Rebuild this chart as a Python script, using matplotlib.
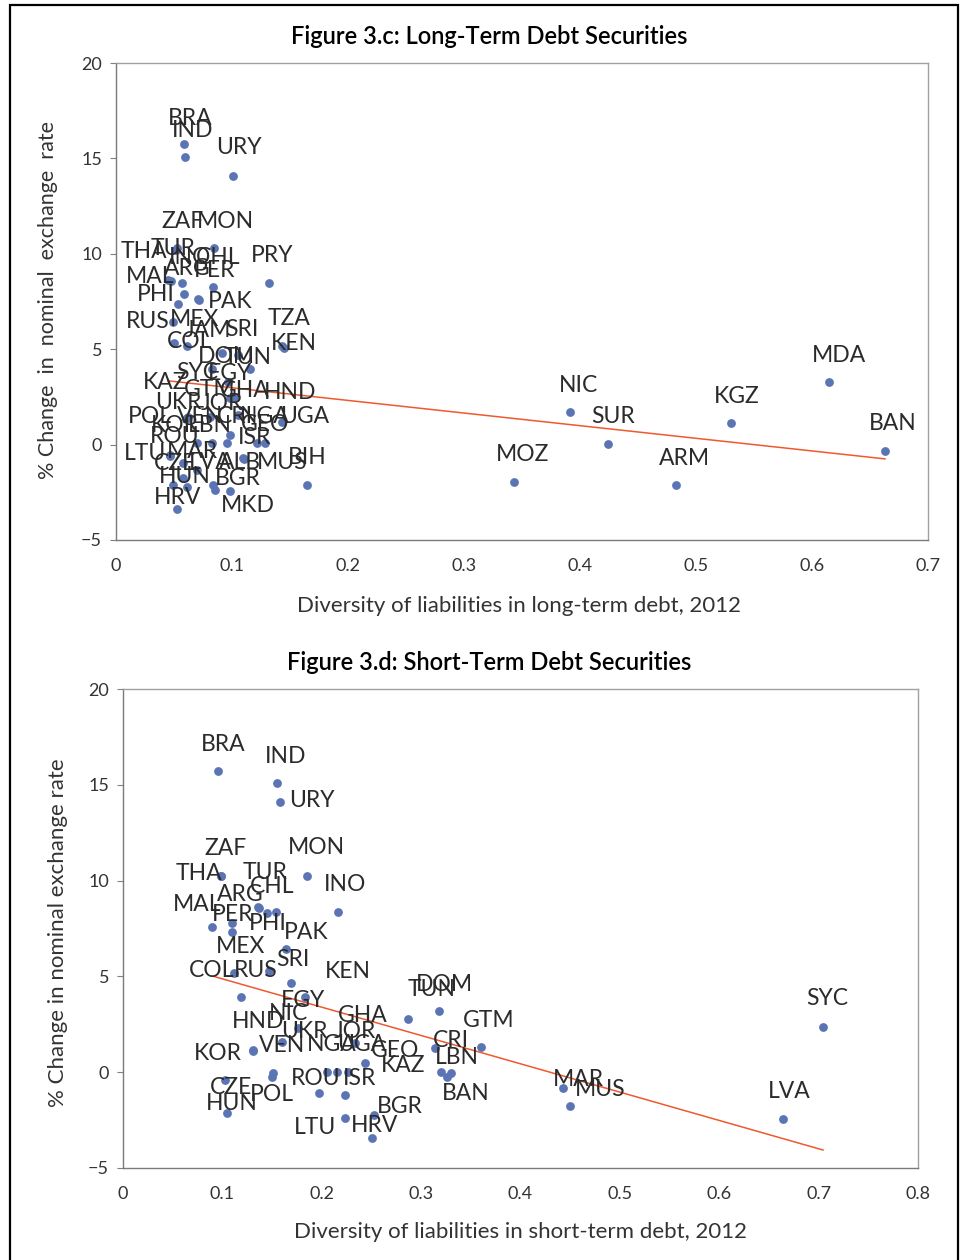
import matplotlib
matplotlib.use('Agg')
import matplotlib.pyplot as plt
import numpy as np
from matplotlib.patches import Rectangle

plt.rcParams['font.family'] = ['Lato', 'DejaVu Sans']

# ---------------- Figure 3.c : Long-term debt ----------------
lt_countries = ['BRA', 'IND', 'URY', 'ZAF', 'THA', 'MON', 'TUR', 'MAL', 'INO', 'CHL',
                'PRY', 'ARG', 'PER', 'PAK', 'PHI', 'RUS', 'COL', 'MEX', 'TZA', 'KEN',
                'JAM', 'SRI', 'SYC', 'TUN', 'DOM', 'EGY', 'JOR', 'GTM', 'GHA', 'HND',
                'UKR', 'POL', 'KAZ', 'VEN', 'LBN', 'CRI', 'NGA', 'UGA', 'ISR', 'KOR',
                'LTU', 'GEO', 'MUS', 'ROU', 'MAR', 'LVA', 'CZE', 'HUN', 'BIH', 'BGR',
                'MKD', 'ALB', 'HRV', 'NIC', 'SUR', 'KGZ', 'MDA', 'BAN', 'MOZ', 'ARM']
lt_x = [0.0586, 0.0595, 0.1009, 0.0526, 0.0517, 0.0845, 0.0448, 0.0474, 0.0569, 0.0836,
        0.1319, 0.0586, 0.0707, 0.0716, 0.0534, 0.0491, 0.0500, 0.0612, 0.1431, 0.1448,
        0.0914, 0.1052, 0.0828, 0.1155, 0.0966, 0.0983, 0.1026, 0.0810, 0.1052, 0.1431,
        0.0612, 0.0603, 0.0621, 0.0698, 0.0828, 0.0957, 0.1216, 0.1284, 0.0983, 0.0466,
        0.0466, 0.1095, 0.1103, 0.0578, 0.0578, 0.0698, 0.0491, 0.0612, 0.1647, 0.0836,
        0.0853, 0.0983, 0.0526, 0.3914, 0.4241, 0.5302, 0.6147, 0.6629, 0.3431, 0.4828]
lt_y = [15.75, 15.07, 14.08, 10.30, 10.20, 10.30, 8.63, 8.57, 8.47, 8.26,
        8.47, 7.89, 7.63, 7.58, 7.37, 6.43, 5.32, 5.17, 5.17, 5.06,
        4.80, 4.70, 3.96, 3.96, 3.28, 2.44, 2.44, 1.45, 1.55, 1.18,
        1.39, 1.34, 1.45, 0.08, 0.08, 0.08, 0.08, 0.08, 0.50, -0.55,
        -0.60, -0.70, -0.76, -0.96, -1.75, -1.33, -2.12, -2.22, -2.12, -2.12,
        -2.38, -2.43, -3.38, 1.71, 0.03, 1.13, 3.28, -0.34, -1.96, -2.12]
lt_trend = [-6.62, 3.64]   # slope, intercept of linear trend
lt_xticks = [0, 0.1, 0.2, 0.3, 0.4, 0.5, 0.6, 0.7]
lt_xticklabels = ['0', '0.1', '0.2', '0.3', '0.4', '0.5', '0.6', '0.7']

# label offsets (pixels, label centre minus point)
lt_ldx = [6, 8, 6, 6, -32, 11, 5, -21, 8, 5,
          3, 3, 17, 31, -22, -25, 16, 8, 7, 10,
          -14, 4, -15, -2, -2, 0, -13, 0, 7, 8,
          -9, -36, -23, 3, -2, 8, 8, 40, 25, 5,
          -25, 22, 38, -8, 9, 13, 2, -2, 0, 25,
          33, 10, 1, 8, 5, 6, 10, 8, 9, 8]
lt_ldy = [-26, -27, -28, -27, 2, -27, -31, -5, -25, -29,
          -27, -26, -29, 2, -9, 0, -2, -26, -27, -5,
          -23, -25, 3, -12, -26, -25, 5, -27, -25, -30,
          -16, -3, -34, -27, -18, -27, -27, -27, 2, -30,
          -3, -33, 3, -26, -26, -7, -22, -10, -28, -7,
          15, -28, -12, -26, -28, -27, -27, -28, -27, -27]

# ---------------- Figure 3.d : Short-term debt ----------------
st_countries = ['BRA', 'IND', 'URY', 'THA', 'ZAF', 'MON', 'TUR', 'ARG', 'CHL', 'PHI',
                'INO', 'MAL', 'PER', 'MEX', 'PAK', 'COL', 'RUS', 'SRI', 'KEN', 'EGY',
                'NIC', 'UKR', 'HND', 'KOR', 'VEN', 'NGA', 'UGA', 'GHA', 'JOR', 'GEO',
                'ROU', 'ISR', 'CZE', 'POL', 'HUN', 'LTU', 'HRV', 'BGR', 'KAZ', 'LBN',
                'CRI', 'GTM', 'TUN', 'DOM', 'BAN', 'MAR', 'MUS', 'LVA', 'SYC']
st_x = [0.0953, 0.1553, 0.1580, 0.0983, 0.0986, 0.1849, 0.1362, 0.1369, 0.1446, 0.1540,
        0.2167, 0.0899, 0.1094, 0.1094, 0.1640, 0.1117, 0.1190, 0.1466, 0.1688, 0.1831,
        0.1764, 0.1597, 0.1311, 0.1308, 0.1512, 0.2050, 0.2150, 0.2335, 0.2267, 0.2435,
        0.1975, 0.2234, 0.1026, 0.1499, 0.1044, 0.2234, 0.2503, 0.2526, 0.3197, 0.3298,
        0.3140, 0.3602, 0.2871, 0.3183, 0.3260, 0.4428, 0.4498, 0.6642, 0.7044]
st_y = [15.72, 15.08, 14.12, 10.26, 10.24, 10.26, 8.61, 8.57, 8.29, 8.35,
        8.35, 7.59, 7.80, 7.33, 6.43, 5.16, 3.91, 5.28, 4.66, 3.91,
        2.29, 1.59, 1.16, 1.13, -0.06, 0.03, 0.03, 1.51, 0.03, 0.46,
        -1.10, -1.19, -0.41, -0.25, -2.15, -2.41, -3.45, -2.23, 0.03, -0.03,
        1.25, 1.30, 2.78, 3.19, -0.25, -0.82, -1.76, -2.44, 2.36]
st_trend = [-14.78, 6.35]  # slope, intercept of linear trend
st_xticks = [0, 0.1, 0.2, 0.3, 0.4, 0.5, 0.6, 0.7, 0.8]
st_xticklabels = ['0', '0.1', '0.2', '0.3', '0.4', '0.5', '0.6', '0.7', '0.8']

st_ldx = [5, 8, 32, -22, 5, 10, 7, -19, 5, -8,
          7, -15, 1, 9, 20, -22, 14, 24, 57, -2,
          -10, 23, 5, -35, 9, 5, 25, 8, 7, 30,
          -4, 15, 6, 0, 5, -30, 3, 26, -38, 6,
          16, 8, 23, 5, 19, 15, 30, 6, 4]
st_ldy = [-27, -27, -1, -2, -28, -28, -35, -13, -27, 11,
          -28, -22, -8, 15, -17, -3, -27, -12, -11, 3,
          -15, -10, -28, 3, -28, -27, -27, -28, -40, -13,
          -15, -17, 7, 18, -10, 9, -13, -8, -6, -15,
          -8, -27, -29, -27, 17, -8, -16, -27, -28]

yticks = [-5, 0, 5, 10, 15, 20]
yticklabels = ['\u22125', '0', '5', '10', '15', '20']

TXT = '#231F20'
DOT = '#5B74B3'
TREND = '#EE5A2E'

W, H = 962, 1260
fig = plt.figure(figsize=(W / 100, H / 100), dpi=100)

# outer frame
fig.patches.append(Rectangle((10 / W, -0.02), 948 / W, 1 - 5 / H + 0.02,
                             transform=fig.transFigure, fill=False,
                             edgecolor='black', linewidth=1.6))


def panel(rect, xs, ys, names, ldx, ldy, trend, xticks, xtlabels, xmax):
    ax = fig.add_axes(rect)
    ax.scatter(xs, ys, s=40, color=DOT, zorder=3, linewidths=0)
    xa = np.array(xs)
    tx = np.array([xa.min(), xa.max()])
    ax.plot(tx, trend[0] * tx + trend[1], color=TREND, lw=1.1, zorder=2)
    for n, x, y, dx, dy in zip(names, xs, ys, ldx, ldy):
        ax.annotate(n, (x, y), xytext=(dx * 0.72, -dy * 0.72),
                    textcoords='offset points', ha='center', va='center',
                    fontsize=16.5, color='#2b2b2b', zorder=4)
    ax.set_xlim(0, xmax)
    ax.set_ylim(-5, 20)
    ax.set_xticks(xticks)
    ax.set_xticklabels(xtlabels)
    ax.set_yticks(yticks)
    ax.set_yticklabels(yticklabels)
    ax.tick_params(axis='x', length=0, pad=13, labelsize=13, colors='#333333')
    ax.tick_params(axis='y', length=4, width=0.8, direction='out', pad=6,
                   labelsize=13, labelcolor='#333333', color='#808080')
    for side in ['left', 'bottom']:
        ax.spines[side].set_color('#7a7a7a')
        ax.spines[side].set_linewidth(1.0)
    for side in ['top', 'right']:
        ax.spines[side].set_color('#a0a0a0')
        ax.spines[side].set_linewidth(1.0)
    return ax


panel([116 / W, 1 - 540 / H, (928 - 116) / W, (540 - 63) / H],
      lt_x, lt_y, lt_countries, lt_ldx, lt_ldy, lt_trend,
      lt_xticks, lt_xticklabels, 0.7)
panel([123 / W, 1 - 1168 / H, (918 - 123) / W, (1168 - 689) / H],
      st_x, st_y, st_countries, st_ldx, st_ldy, st_trend,
      st_xticks, st_xticklabels, 0.8)

fig.text(489 / W, 1 - 37 / H, 'Figure 3.c: Long-Term Debt Securities',
         ha='center', va='center', fontsize=17, color='black', fontweight='semibold')
fig.text(489 / W, 1 - 663 / H, 'Figure 3.d: Short-Term Debt Securities',
         ha='center', va='center', fontsize=17, color='black', fontweight='semibold')
fig.text(519 / W, 1 - 606 / H, 'Diversity of liabilities in long-term debt, 2012',
         ha='center', va='center', fontsize=16, color='#333333')
fig.text(520 / W, 1 - 1232 / H, 'Diversity of liabilities in short-term debt, 2012',
         ha='center', va='center', fontsize=16, color='#333333')
fig.text(48 / W, 1 - 300 / H, '% Change  in  nominal  exchange  rate',
         ha='center', va='center', rotation=90, fontsize=15.5, color='#333333')
fig.text(58 / W, 1 - 933 / H, '% Change in nominal exchange rate',
         ha='center', va='center', rotation=90, fontsize=16, color='#333333')

fig.savefig('out.png', dpi=100)
